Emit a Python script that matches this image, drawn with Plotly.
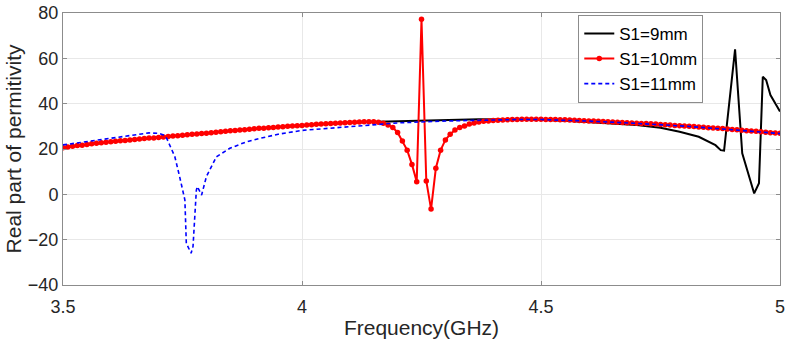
import numpy as np
import plotly.graph_objects as go

# ---- data ----
red_freq = np.round(np.arange(3.50, 5.0001, 0.01), 2)
red_vals = [
    20.6, 20.9, 21.2, 21.5, 21.7, 22.0, 22.3, 22.5, 22.8, 23.0,
    23.2, 23.4, 23.6, 23.8, 24.0, 24.2, 24.4, 24.6, 24.8, 24.9,
    25.1, 25.3, 25.5, 25.7, 25.9, 26.1, 26.3, 26.5, 26.6, 26.8,
    27.0, 27.2, 27.4, 27.6, 27.8, 28.0, 28.2, 28.4, 28.5, 28.7,
    28.9, 29.1, 29.2, 29.4, 29.5, 29.7, 29.8, 30.0, 30.1, 30.3,
    30.4, 30.6, 30.7, 30.9, 31.0, 31.1, 31.3, 31.4, 31.5, 31.6,
    31.7, 31.8, 31.9, 32.0, 32.0, 32.0, 31.8, 31.4, 30.6, 29.5,
    27.3, 23.5, 19.5, 13.2, 5.6, 77.2, 5.9, -6.5, 11.5, 19.5,
    24.0, 26.5, 28.4, 29.5, 30.1, 31.0, 31.5, 31.9, 32.2, 32.4,
    32.6, 32.7, 32.8, 32.9, 33.0, 33.0, 33.1, 33.1, 33.1, 33.1,
    33.1, 33.0, 33.0, 33.0, 32.9, 32.9, 32.8, 32.7, 32.6, 32.5,
    32.4, 32.3, 32.2, 32.1, 32.0, 31.9, 31.8, 31.7, 31.6, 31.5,
    31.4, 31.3, 31.2, 31.1, 31.0, 30.8, 30.7, 30.6, 30.4, 30.3,
    30.2, 30.0, 29.9, 29.7, 29.6, 29.4, 29.3, 29.1, 29.0, 28.8,
    28.6, 28.5, 28.3, 28.1, 27.9, 27.8, 27.6, 27.4, 27.2, 27.1,
    26.9,
]

black_freq = [3.50, 3.60, 3.70, 3.80, 3.90, 4.00, 4.10, 4.18, 4.29, 4.37,
              4.45, 4.50, 4.56, 4.60, 4.65, 4.70, 4.75, 4.79, 4.83, 4.865,
              4.876, 4.883, 4.906, 4.921, 4.946, 4.956, 4.964, 4.971, 4.98, 5.00]
black_vals = [20.6, 23.2, 25.1, 27.0, 28.9, 30.4, 31.7, 32.1, 32.8, 33.1,
              33.0, 32.9, 32.4, 31.9, 31.3, 30.6, 29.4, 27.6, 25.4, 21.7,
              19.5, 19.3, 64.0, 18.1, 0.4, 4.9, 51.9, 50.4, 43.8, 36.5]

blue_freq = [3.50, 3.55, 3.60, 3.65, 3.68, 3.70, 3.71, 3.717, 3.724, 3.734,
             3.744, 3.755, 3.758, 3.768, 3.772, 3.779, 3.781, 3.790, 3.800, 3.821,
             3.849, 3.884, 3.912, 3.95, 4.00, 4.05, 4.10, 4.155, 4.20, 4.29,
             4.37, 4.45, 4.50, 4.56, 4.60, 4.70, 4.80, 4.90, 5.00]
blue_vals = [21.8, 23.3, 24.8, 26.3, 27.1, 26.9, 26.2, 24.7, 21.0, 16.6,
             7.8, -2.5, -21.6, -26.0, -23.0, 1.9, 3.4, -0.3, 7.8, 16.6,
             20.3, 23.2, 24.7, 26.5, 28.2, 29.1, 30.0, 30.9, 31.5, 32.3,
             32.8, 33.0, 33.0, 32.7, 32.3, 31.3, 30.1, 28.5, 26.8]

x_ticks = [3.5, 4, 4.5, 5]
x_tick_labels = ["3.5", "4", "4.5", "5"]
y_ticks = [-40, -20, 0, 20, 40, 60, 80]

FONT = "Liberation Sans, Arial, sans-serif"

fig = go.Figure()
fig.add_trace(go.Scatter(x=black_freq, y=black_vals, mode="lines", name="S1=9mm",
                         line=dict(color="#000000", width=2)))
fig.add_trace(go.Scatter(x=red_freq, y=red_vals, mode="lines+markers", name="S1=10mm",
                         line=dict(color="#ff0000", width=2),
                         marker=dict(color="#ff0000", size=5.5, symbol="circle")))
fig.add_trace(go.Scatter(x=blue_freq, y=blue_vals, mode="lines", name="S1=11mm",
                         line=dict(color="#0000ff", width=1.6, dash="4px,3px")))

axis_common = dict(
    showline=True, linecolor="#8c8c8c", linewidth=1, mirror="ticks",
    ticks="inside", ticklen=4, tickcolor="#8c8c8c",
    showgrid=True, gridcolor="#e8e8e8", gridwidth=1, zeroline=False,
    tickfont=dict(family=FONT, size=18, color="#262626"),
    automargin=False,
)

fig.update_xaxes(range=[3.5, 5], tickvals=x_ticks, ticktext=x_tick_labels,
                 ticklabelstandoff=5,
                 title=dict(text="Frequency(GHz)", font=dict(family=FONT, size=21, color="#262626"),
                            standoff=4),
                 **axis_common)
fig.update_yaxes(range=[-40, 80], tickvals=y_ticks,
                 title=dict(text="Real part of permitivity", font=dict(family=FONT, size=21, color="#262626"),
                            standoff=0),
                 **axis_common)

fig.update_layout(
    width=789, height=343,
    margin=dict(l=63, r=9, t=13, b=58),
    paper_bgcolor="white", plot_bgcolor="white",
    showlegend=True,
    legend=dict(x=0.893, xanchor="right", y=0.993, yanchor="top",
                bgcolor="white", bordercolor="#8c8c8c", borderwidth=1,
                font=dict(family=FONT, size=17, color="#000000"),
                itemwidth=30, tracegroupgap=0),
)

fig.write_html("out.html")
